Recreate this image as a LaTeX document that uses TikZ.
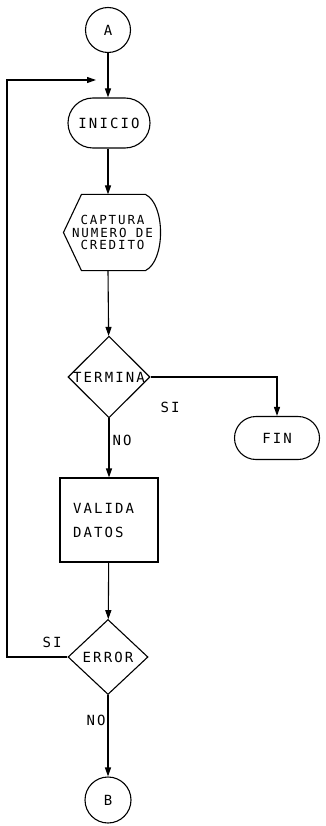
\documentclass[tikz,border=0pt]{standalone}
\usepackage{fontspec}
\newfontfamily\matriz[LetterSpace=15]{DejaVu Sans Mono}
\usepackage{tikz}
\usetikzlibrary{arrows.meta,positioning,shapes.geometric,shapes.misc,calc}

\begin{document}
\begin{tikzpicture}[x=1pt, y=1pt, font=\matriz\fontsize{14}{14}\selectfont, >={Triangle[length=9pt,width=6pt]},
  line width=1.1pt,
  conector/.style={draw, circle, minimum size=45pt, inner sep=0pt},
  terminal/.style={draw, rounded rectangle, inner sep=0pt},
  decision/.style={draw, diamond, inner sep=0pt},
  proceso/.style={draw, rectangle, inner sep=0pt},
  etiq/.style={inner sep=1pt},
  arr/.style={->}]
  \useasboundingbox (0,0) rectangle (325,-826);
  \node[conector] (a) at (108,-30) {A};
  \node[terminal, minimum width=82pt, minimum height=50pt] (inicio) at (109,-123) {INICIO};
  \node[minimum width=97pt, minimum height=75pt, inner sep=0pt, align=center,
        font=\matriz\fontsize{12.5}{12.8}\selectfont] (captura) at (112.5,-232.5) {CAPTURA\\NUMERO DE\\CREDITO};
  \node[decision, minimum width=82pt, minimum height=77pt] (termina) at (109,-377) {TERMINA};
  \node[terminal, minimum width=85pt, minimum height=43pt] (fin) at (277,-438) {FIN};
  \node[proceso, minimum width=98pt, minimum height=84pt, align=left, text width=72pt,
        font=\matriz\fontsize{14}{24}\selectfont] (valida) at (109,-520) {VALIDA\\DATOS};
  \node[decision, minimum width=80pt, minimum height=75pt] (error) at (108,-657) {ERROR};
  \node[conector, minimum size=46pt] (b) at (108,-800) {B};
  % etiquetas
  \node[etiq] (si1) at (170,-407) {SI};
  \node[etiq] (no1) at (122,-440) {NO};
  \node[etiq] (si2) at (52,-642) {SI};
  \node[etiq] (no2) at (96,-720) {NO};
  % forma de pantalla
  \draw (captura.west) -- ($(captura.north west)+(18,0)$) -- ($(captura.north east)+(-16,0)$)
    .. controls ($(captura.north east)+(4,-10)$) and ($(captura.south east)+(4,10)$) .. ($(captura.south east)+(-16,0)$)
    -- ($(captura.south west)+(18,0)$) -- cycle;
  \coordinate (lazo) at (7,-80);
  \coordinate (entrada) at (96,-80);
  \draw[arr] (a) -- (a |- inicio.north);
  \draw[arr] (a |- inicio.south) -- (a |- captura.north);
  \draw[arr] (a |- captura.south) -- (termina);
  \draw[arr] (termina.east) -| (fin.north);
  \draw[arr] (termina) -- (valida);
  \draw[arr] (valida) -- (error);
  \draw[arr] (error) -- (b);
  \draw[arr] (error.west) -| (lazo) -- (entrada);
\end{tikzpicture}
\end{document}
